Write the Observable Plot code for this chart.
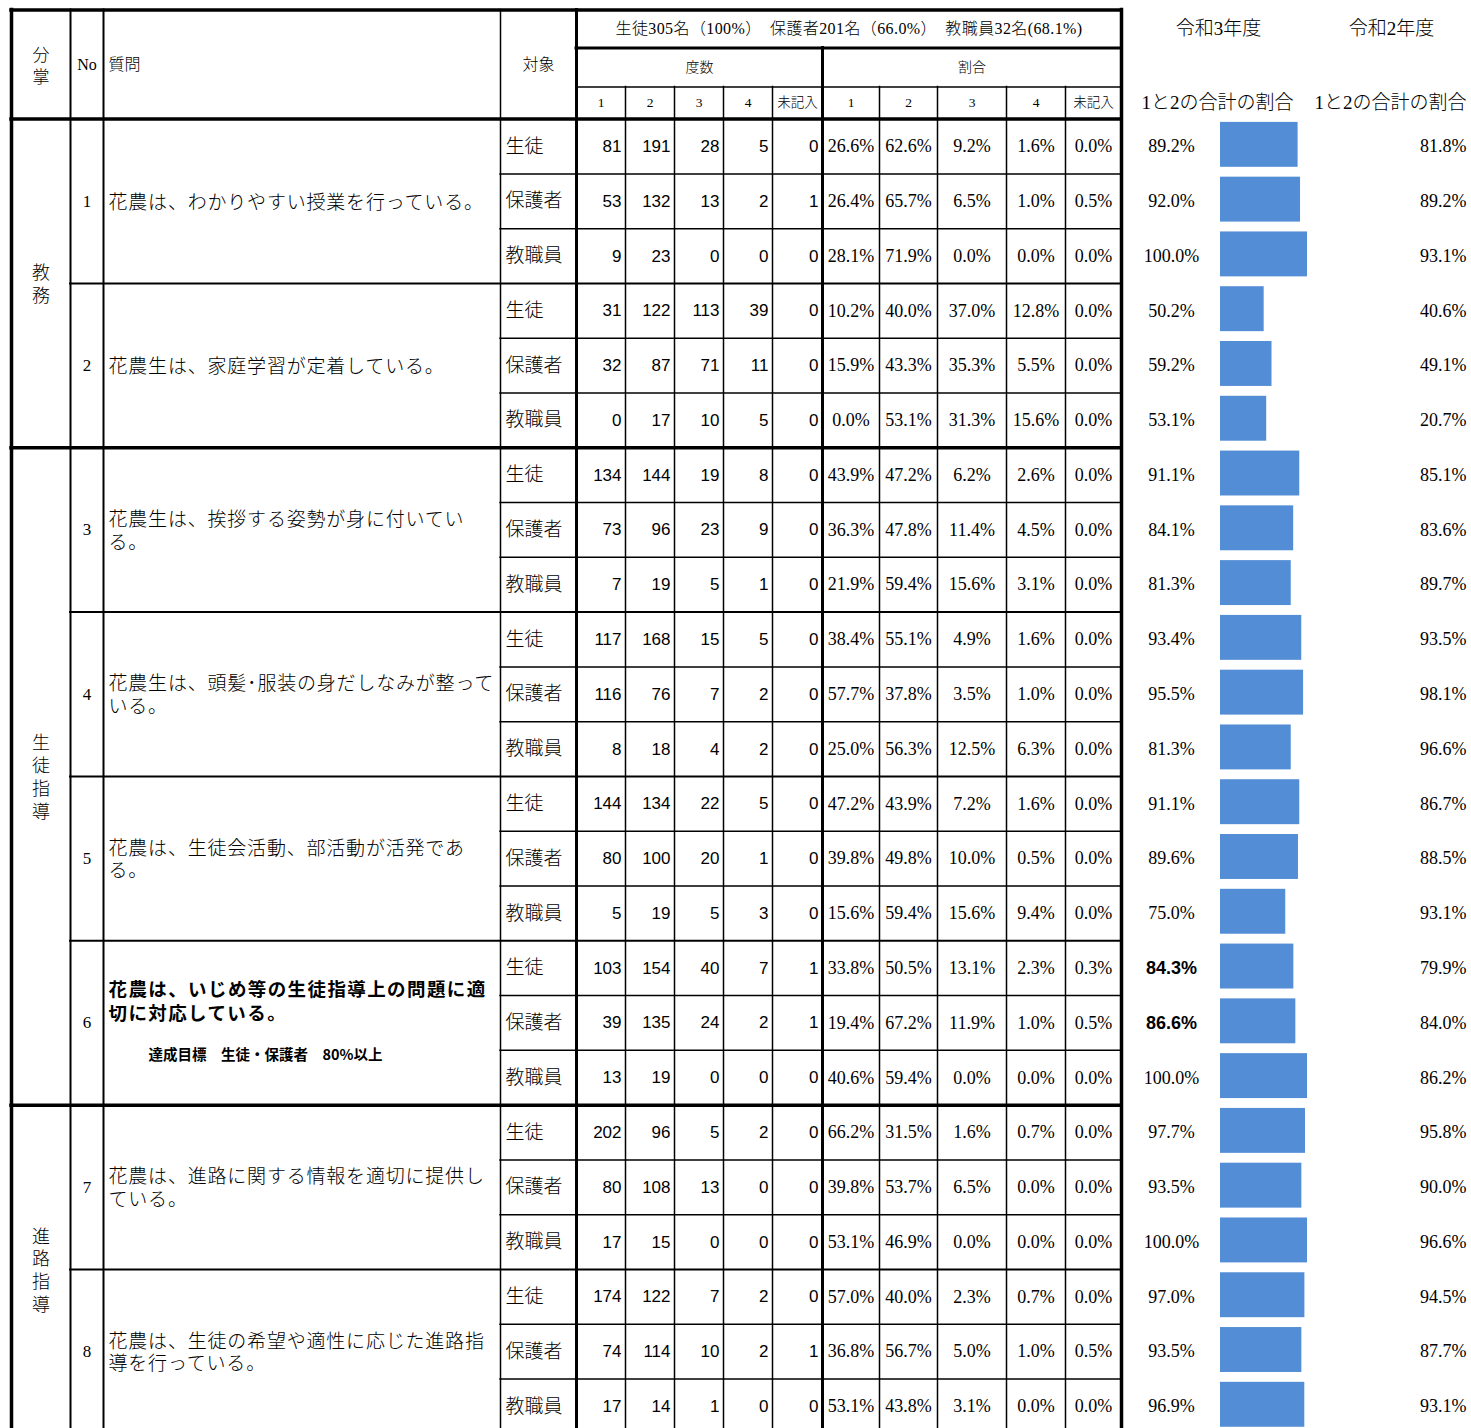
<!DOCTYPE html>
<html><head><meta charset="utf-8">
<script src="https://cdn.jsdelivr.net/npm/d3@7"></script>
<script src="https://cdn.jsdelivr.net/npm/@observablehq/plot@0.6"></script>
<style>html,body{margin:0;padding:0;overflow:hidden;background:#fff}</style>
</head><body><div id="chart"></div>
<script>
// ---------------- DATA ----------------
const sections = ["教務", "生徒指導", "進路指導"];
const sectionQuestions = [[1, 2], [3, 4, 5, 6], [7, 8]];
const questions = [
  "花農は、わかりやすい授業を行っている。",
  "花農生は、家庭学習が定着している。",
  "花農生は、挨拶する姿勢が身に付いてい\nる。",
  "花農生は、頭髪･服装の身だしなみが整って\nいる。",
  "花農は、生徒会活動、部活動が活発であ\nる。",
  "花農は、いじめ等の生徒指導上の問題に適\n切に対応している。",
  "花農は、進路に関する情報を適切に提供し\nている。",
  "花農は、生徒の希望や適性に応じた進路指\n導を行っている。"
];
const q6Note = "達成目標　生徒・保護者　80%以上";
const targets = ["生徒", "保護者", "教職員"];
const answerLabels = ["1", "2", "3", "4", "未記入"];
const summaryTitle = "生徒305名（100%）　保護者201名（66.0%）　教職員32名(68.1%)";
const headerLabels = {bunsho: "分\n掌", no: "No", question: "質問", target: "対象", freq: "度数", ratio: "割合"};
const yearLabels = ["令和3年度", "令和2年度"];
const sumLabel = "1と2の合計の割合";

const counts = [
  [81,191,28,5,0],[53,132,13,2,1],[9,23,0,0,0],
  [31,122,113,39,0],[32,87,71,11,0],[0,17,10,5,0],
  [134,144,19,8,0],[73,96,23,9,0],[7,19,5,1,0],
  [117,168,15,5,0],[116,76,7,2,0],[8,18,4,2,0],
  [144,134,22,5,0],[80,100,20,1,0],[5,19,5,3,0],
  [103,154,40,7,1],[39,135,24,2,1],[13,19,0,0,0],
  [202,96,5,2,0],[80,108,13,0,0],[17,15,0,0,0],
  [174,122,7,2,0],[74,114,10,2,1],[17,14,1,0,0]
];
const ratios = [
  [26.6,62.6,9.2,1.6,0.0],[26.4,65.7,6.5,1.0,0.5],[28.1,71.9,0.0,0.0,0.0],
  [10.2,40.0,37.0,12.8,0.0],[15.9,43.3,35.3,5.5,0.0],[0.0,53.1,31.3,15.6,0.0],
  [43.9,47.2,6.2,2.6,0.0],[36.3,47.8,11.4,4.5,0.0],[21.9,59.4,15.6,3.1,0.0],
  [38.4,55.1,4.9,1.6,0.0],[57.7,37.8,3.5,1.0,0.0],[25.0,56.3,12.5,6.3,0.0],
  [47.2,43.9,7.2,1.6,0.0],[39.8,49.8,10.0,0.5,0.0],[15.6,59.4,15.6,9.4,0.0],
  [33.8,50.5,13.1,2.3,0.3],[19.4,67.2,11.9,1.0,0.5],[40.6,59.4,0.0,0.0,0.0],
  [66.2,31.5,1.6,0.7,0.0],[39.8,53.7,6.5,0.0,0.0],[53.1,46.9,0.0,0.0,0.0],
  [57.0,40.0,2.3,0.7,0.0],[36.8,56.7,5.0,1.0,0.5],[53.1,43.8,3.1,0.0,0.0]
];
const sumR3 = [89.2,92.0,100.0, 50.2,59.2,53.1, 91.1,84.1,81.3, 93.4,95.5,81.3,
               91.1,89.6,75.0, 84.3,86.6,100.0, 97.7,93.5,100.0, 97.0,93.5,96.9];
const sumR2 = [81.8,89.2,93.1, 40.6,49.1,20.7, 85.1,83.6,89.7, 93.5,98.1,96.6,
               86.7,88.5,93.1, 79.9,84.0,86.2, 95.8,90.0,96.6, 94.5,87.7,93.1];
const emphasisRows = [15, 16];

// ---------------- LAYOUT ----------------
const L = {
  W: 1471, H: 1428,
  rowTop: 118.6, rowH: 54.78,
  hdr: [-1.99, -1.296, -0.584, 0],
  xLeft: 11, xNo: 70, xQ: 103, xTgt: 500,
  cnt: [576, 625, 674, 723, 772, 822],
  pct: [822, 879, 937, 1006, 1065, 1121],
  r3Center: 1171, barLeft: 1220, bar100: 1307, r2Right: 1466, yearCenters: [1218, 1391], sumCenters: [1217, 1390],
  barTop: 0.06, barBottom: 0.88,
  barColor: "#538dd5",
  serif: "'Liberation Serif','Noto Sans CJK JP',serif",
  gothic: "'Noto Sans CJK JP',sans-serif",
  sans: "'Liberation Sans',Arial,sans-serif"
};
const yBottom = (L.H - L.rowTop) / L.rowH;
const yTopDom = -L.rowTop / L.rowH;
const fmt = v => v.toFixed(1) + "%";
const barScale = d3.scaleLinear().domain([0, 100]).range([L.barLeft, L.bar100]);

// ---------------- DERIVED TABLES ----------------
const rows = counts.map((c, i) => ({i, q: Math.floor(i / 3), t: targets[i % 3], c, p: ratios[i], r3: sumR3[i], r2: sumR2[i]}));
const countCells = rows.flatMap(r => r.c.map((v, j) => ({x: L.cnt[j + 1] - 4, y: r.i + 0.5, text: String(v)})));
const pctCells = rows.flatMap(r => r.p.map((v, j) => ({x: (L.pct[j] + L.pct[j + 1]) / 2, y: r.i + 0.5, text: fmt(v)})));
const qRows = questions.map((text, k) => ({k, text, no: String(k + 1), y: k * 3 + 1.5}));
const secRows = sections.map((s, k) => {
  const qs = sectionQuestions[k];
  const y1 = (qs[0] - 1) * 3, y2 = qs[qs.length - 1] * 3;
  return {text: s.split("").join("\n"), y: (y1 + y2) / 2};
});

const hRules = [
  {y: L.hdr[0], x1: L.xLeft, x2: L.pct[5], w: 3.5},
  {y: L.hdr[1], x1: L.cnt[0], x2: L.pct[5], w: 3},
  {y: L.hdr[2], x1: L.cnt[0], x2: L.pct[5], w: 1.5},
  {y: 0, x1: L.xLeft, x2: L.pct[5], w: 3.5}
];
const sectionBreaks = sectionQuestions.slice(1).map(qs => (qs[0] - 1) * 3);
for (let k = 1; k <= 24; k++) {
  if (sectionBreaks.includes(k)) hRules.push({y: k, x1: L.xLeft, x2: L.pct[5], w: 3.5});
  else if (k % 3 === 0) hRules.push({y: k, x1: L.xNo, x2: L.pct[5], w: 2});
  else hRules.push({y: k, x1: L.xTgt, x2: L.pct[5], w: 1.5});
}
const vRules = [
  {x: L.xLeft, y1: L.hdr[0], y2: 25, w: 3.5},
  {x: L.xNo, y1: L.hdr[0], y2: 25, w: 2},
  {x: L.xQ, y1: L.hdr[0], y2: 25, w: 2},
  {x: L.xTgt, y1: L.hdr[0], y2: 25, w: 1.5},
  {x: L.cnt[0], y1: L.hdr[0], y2: 25, w: 3},
  ...L.cnt.slice(1, 5).map(x => ({x, y1: L.hdr[2], y2: 25, w: 1.5})),
  {x: L.pct[0], y1: L.hdr[1], y2: 25, w: 3},
  ...L.pct.slice(1, 5).map(x => ({x, y1: L.hdr[2], y2: 25, w: 1.5})),
  {x: L.pct[5], y1: L.hdr[0], y2: 25, w: 3.5}
];
const mid = (a, b) => (a + b) / 2;
const hdrMid = [mid(L.hdr[0], L.hdr[1]), mid(L.hdr[1], L.hdr[2]), mid(L.hdr[2], L.hdr[3])];

const ansHeader = [
  ...answerLabels.map((t, j) => ({x: mid(L.cnt[j], L.cnt[j + 1]), text: t})),
  ...answerLabels.map((t, j) => ({x: mid(L.pct[j], L.pct[j + 1]), text: t}))
];

const normalR3 = rows.filter(r => !emphasisRows.includes(r.i));
const boldR3 = rows.filter(r => emphasisRows.includes(r.i));

const chart = Plot.plot({
  width: L.W, height: L.H,
  margin: 0,
  x: {type: "linear", domain: [0, L.W], range: [0, L.W], axis: null},
  y: {type: "linear", domain: [yTopDom, yBottom], range: [0, L.H], axis: null},
  style: {background: "#fff", color: "#000"},
  marks: [
    // bars
    Plot.rect(rows, {x1: L.barLeft, x2: r => barScale(r.r3), y1: r => r.i + L.barTop, y2: r => r.i + L.barBottom, fill: L.barColor}),
    // grid lines
    Plot.ruleY(hRules, {y: "y", x1: "x1", x2: "x2", strokeWidth: "w", stroke: "#000", strokeLinecap: "square"}),
    Plot.ruleX(vRules, {x: "x", y1: "y1", y2: "y2", strokeWidth: "w", stroke: "#000", strokeLinecap: "square"}),
    // header texts
    Plot.text([headerLabels.bunsho], {x: mid(L.xLeft, L.xNo), y: mid(L.hdr[0], 0), text: d => d, fontSize: 17, fontFamily: L.serif, fontWeight: 300, lineHeight: 1.3}),
    Plot.text([headerLabels.no], {x: mid(L.xNo, L.xQ), y: mid(L.hdr[0], 0), text: d => d, fontSize: 16, fontFamily: L.serif, fontWeight: 400}),
    Plot.text([headerLabels.question], {x: L.xQ + 5, y: mid(L.hdr[0], 0), text: d => d, textAnchor: "start", fontSize: 16, fontFamily: L.serif, fontWeight: 300}),
    Plot.text([headerLabels.target], {x: mid(L.xTgt, L.cnt[0]), y: mid(L.hdr[0], 0), text: d => d, fontSize: 16, fontFamily: L.serif, fontWeight: 300}),
    Plot.text([summaryTitle], {x: mid(L.cnt[0], L.pct[5]), y: hdrMid[0], text: d => d, fontSize: 16, fontFamily: L.serif, fontWeight: 300, ariaDescription: "summary"}),
    Plot.text([headerLabels.freq], {x: mid(L.cnt[0], L.cnt[5]), y: hdrMid[1], text: d => d, fontSize: 14, fontFamily: L.serif, fontWeight: 300}),
    Plot.text([headerLabels.ratio], {x: mid(L.pct[0], L.pct[5]), y: hdrMid[1], text: d => d, fontSize: 14, fontFamily: L.serif, fontWeight: 300}),
    Plot.text(ansHeader, {x: "x", y: hdrMid[2], text: "text", fontSize: 13.5, fontFamily: L.serif, fontWeight: 300}),
    Plot.text(yearLabels, {x: (d, i) => L.yearCenters[i], y: hdrMid[0], text: d => d, fontSize: 19, fontFamily: L.serif, fontWeight: 300}),
    Plot.text([sumLabel, sumLabel], {x: (d, i) => L.sumCenters[i], y: hdrMid[2], text: d => d, fontSize: 19, fontFamily: L.serif, fontWeight: 300}),
    // section labels
    Plot.text(secRows, {x: mid(L.xLeft, L.xNo), y: "y", text: "text", fontSize: 18, fontFamily: L.serif, fontWeight: 300, lineHeight: 1.27}),
    // question numbers
    Plot.text(qRows, {x: mid(L.xNo, L.xQ), y: "y", text: "no", fontSize: 17, fontFamily: L.serif}),
    // question texts
    Plot.text(qRows.filter(d => d.k !== 5), {x: L.xQ + 5, y: "y", text: "text", textAnchor: "start", fontSize: 19, fontFamily: L.serif, fontWeight: 300, lineHeight: 1.2, ariaDescription: "qtext"}),
    Plot.text(qRows.filter(d => d.k === 5), {x: L.xQ + 5, y: d => d.y - 0.41, text: "text", textAnchor: "start", fontSize: 18.5, fontFamily: L.gothic, fontWeight: 700, lineHeight: 1.26, ariaDescription: "qbold"}),
    Plot.text([q6Note], {x: L.xQ + 45, y: 5 * 3 + 1.5 + 0.6, text: d => d, textAnchor: "start", fontSize: 14.5, fontFamily: L.gothic, fontWeight: 700}),
    // target labels
    Plot.text(rows, {x: L.xTgt + 5, y: r => r.i + 0.5, text: "t", textAnchor: "start", fontSize: 19, fontFamily: L.gothic, fontWeight: 300}),
    // counts
    Plot.text(countCells, {x: "x", y: "y", text: "text", textAnchor: "end", fontSize: 17, fontFamily: L.sans}),
    // ratios
    Plot.text(pctCells, {x: "x", y: "y", text: "text", fontSize: 18, fontFamily: L.serif}),
    // R3 totals
    Plot.text(normalR3, {x: L.r3Center, y: r => r.i + 0.5, text: r => fmt(r.r3), fontSize: 18, fontFamily: L.serif}),
    Plot.text(boldR3, {x: L.r3Center, y: r => r.i + 0.5, text: r => fmt(r.r3), fontSize: 18, fontFamily: L.sans, fontWeight: 700}),
    // R2 totals
    Plot.text(rows, {x: L.r2Right, y: r => r.i + 0.5, text: r => fmt(r.r2), textAnchor: "end", fontSize: 18, fontFamily: L.serif})
  ]
});
d3.select(chart).selectAll('g[aria-description="qtext"] text').style("letter-spacing", "0.8px");
d3.select(chart).selectAll('g[aria-description="qbold"] text').style("letter-spacing", "1.4px");
d3.select(chart).selectAll('g[aria-description="summary"] text').style("letter-spacing", "0.4px");
document.getElementById("chart").appendChild(chart);
</script>
</body></html>
